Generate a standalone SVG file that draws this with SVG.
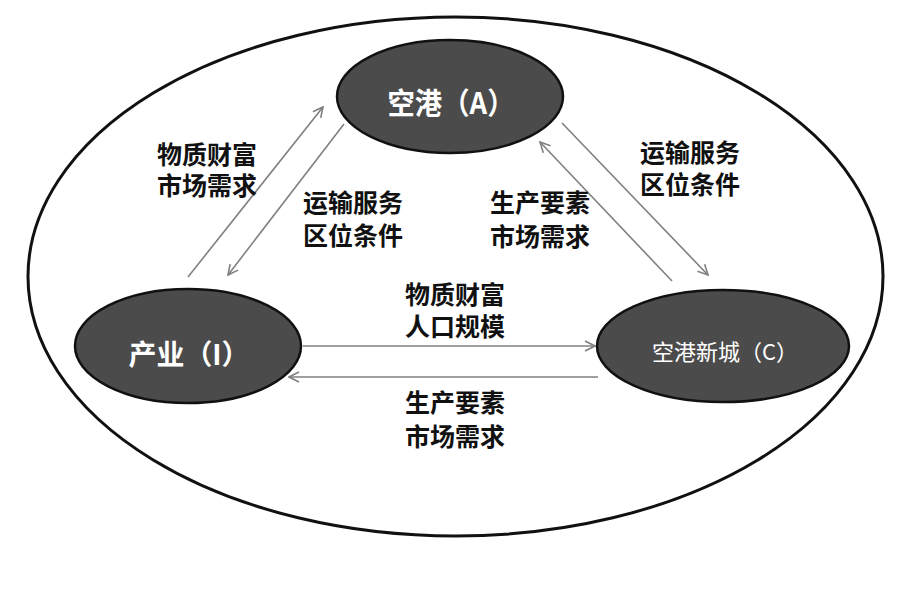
<svg xmlns="http://www.w3.org/2000/svg" width="901" height="606" viewBox="0 0 901 606">
<style>
.node{fill:#4b4b4b;stroke:#111;stroke-width:2.5}
.nt{fill:#fff;font-family:"Noto Sans CJK SC","Noto Sans",sans-serif;font-weight:bold;text-anchor:middle}
.lb{fill:#111;font-family:"Noto Sans CJK SC","Noto Sans",sans-serif;font-weight:bold;font-size:25px}
.cn{stroke:#808080;stroke-width:1.6;fill:none}
</style>
<defs>
<marker id="arr" viewBox="0 0 12 12" refX="11" refY="6" markerWidth="12" markerHeight="12" markerUnits="userSpaceOnUse" orient="auto">
<path d="M1,1 L11,6 L1,11" fill="none" stroke="#808080" stroke-width="1.6"/>
</marker>
</defs>
<rect width="901" height="606" fill="#fff"/>
<ellipse id="outer" cx="455.5" cy="276.5" rx="427.5" ry="259.5" fill="none" stroke="#111" stroke-width="3"/>
<g id="connectors">
<line class="cn" x1="188" y1="277" x2="323" y2="107" marker-end="url(#arr)"/>
<line class="cn" x1="344" y1="124" x2="228" y2="275" marker-end="url(#arr)"/>
<line class="cn" x1="562" y1="123" x2="708" y2="275" marker-end="url(#arr)"/>
<line class="cn" x1="672" y1="281" x2="540" y2="142" marker-end="url(#arr)"/>
<line class="cn" x1="303" y1="346" x2="595" y2="346" marker-end="url(#arr)"/>
<line class="cn" x1="598" y1="377" x2="289" y2="377" marker-end="url(#arr)"/>
</g>
<g id="node-A">
<ellipse class="node" cx="450" cy="96.5" rx="113" ry="56.5"/>
<text class="nt" x="451" y="114" font-size="30" textLength="127" lengthAdjust="spacingAndGlyphs">空港（A）</text>
</g>
<g id="node-I">
<ellipse class="node" cx="188" cy="346" rx="113" ry="57"/>
<text class="nt" x="189" y="365" font-size="28" textLength="121" lengthAdjust="spacingAndGlyphs">产业（I）</text>
</g>
<g id="node-C">
<ellipse class="node" cx="723" cy="346" rx="126" ry="56"/>
<text class="nt" x="725" y="360" font-size="22" font-weight="normal" style="font-weight:normal" textLength="146" lengthAdjust="spacingAndGlyphs">空港新城（C）</text>
</g>
<g id="labels">
<text class="lb" x="157" y="164">物质财富</text>
<text class="lb" x="157" y="195">市场需求</text>
<text class="lb" x="303" y="212">运输服务</text>
<text class="lb" x="303" y="245">区位条件</text>
<text class="lb" x="490" y="212">生产要素</text>
<text class="lb" x="490" y="246">市场需求</text>
<text class="lb" x="640" y="162">运输服务</text>
<text class="lb" x="640" y="194">区位条件</text>
<text class="lb" x="405" y="304">物质财富</text>
<text class="lb" x="405" y="336">人口规模</text>
<text class="lb" x="405" y="412">生产要素</text>
<text class="lb" x="405" y="446">市场需求</text>
</g>
</svg>
